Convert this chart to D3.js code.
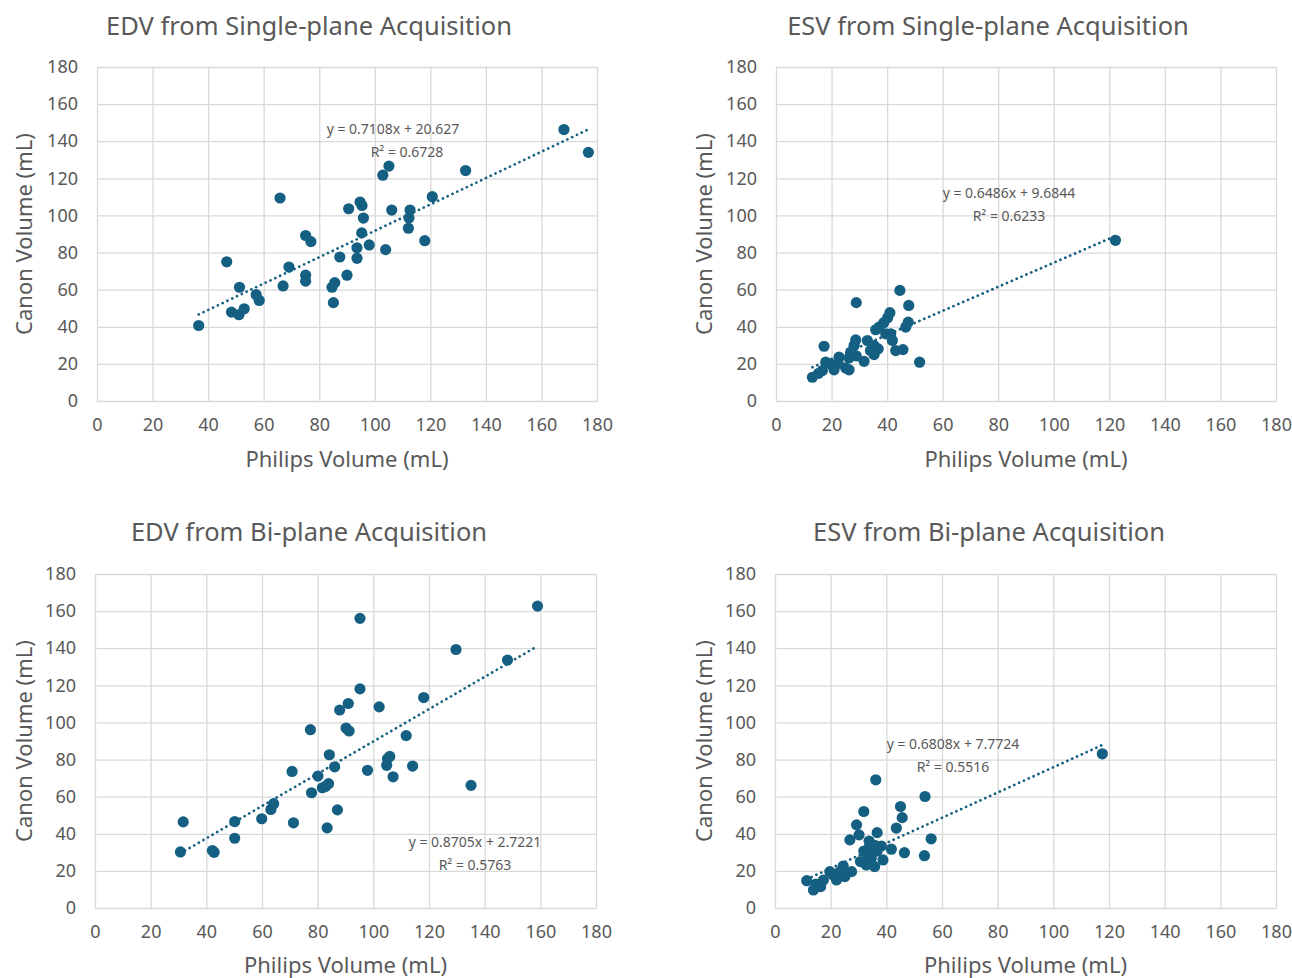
<!DOCTYPE html>
<html><head><meta charset="utf-8">
<script src="https://cdn.jsdelivr.net/npm/d3@7"></script>
<style>
body{margin:0;background:#fff;}
svg{display:block;}
text{font-family:"Noto Sans","Open Sans",sans-serif;fill:#595959;}
</style></head>
<body>
<svg id="chart" width="1292" height="978"></svg>
<script>
// ---- data ----
const ticks = [0,20,40,60,80,100,120,140,160,180];
const xTitle = "Philips Volume (mL)";
const yTitle = "Canon Volume (mL)";

const titles = ["EDV from Single-plane Acquisition","ESV from Single-plane Acquisition","EDV from Bi-plane Acquisition","ESV from Bi-plane Acquisition"];
const equations = ["y = 0.7108x + 20.627","y = 0.6486x + 9.6844","y = 0.8705x + 2.7221","y = 0.6808x + 7.7724"];
const rSquared = ["R² = 0.6728","R² = 0.6233","R² = 0.5763","R² = 0.5516"];
const slopes = [0.7108,0.6486,0.8705,0.6808];
const intercepts = [20.627,9.6844,2.7221,7.7724];

const edvSingleX = [36.6,46.7,48.4,51.1,51.3,53,57.3,58.4,65.9,67,69.1,75.1,77,75.1,75.1,84.6,85.6,85.1,87.4,90,90.6,93.6,93.6,94.7,95.4,95.3,95.9,98,102.9,105.1,103.9,106.1,112.1,112.3,112.7,118,120.7,132.7,168.1,176.9];
const edvSingleY = [40.7,75,47.9,46.5,61.3,49.7,57.3,54.2,109.4,62,72.2,89.2,85.9,67.8,64.6,61.3,63.8,53,77.6,67.8,103.6,82.6,76.9,107.2,105.4,90.6,98.6,84.1,121.7,126.6,81.6,102.9,93.1,98.6,102.9,86.4,110.1,124.2,146.3,134];

const esvSingleX = [44.6,28.9,47.8,41,40.2,47.6,38.8,37.1,35.9,46.7,41.3,39.5,41.9,28.7,28.1,32.9,35.3,36.8,35.3,31.7,26.9,26.3,43.1,45.7,51.7,17.3,22.7,22.4,19.6,17.9,25.1,20.9,16.7,13.1,15.3,26.3,28.9,34,122.2];
const esvSingleY = [59.6,53,51.5,47.6,44.9,42.5,42.2,39.8,38.4,39.8,36.2,36.2,32.6,32.9,29.9,32.6,29.9,28.1,25,21.4,26.3,23.2,27.2,27.7,20.9,29.5,23.6,20.3,20,20.9,17.8,16.8,16.4,12.8,14.9,16.8,24.3,27.2,86.6];

const edvBiX = [30.7,31.7,42.2,42.8,50.2,50.2,59.9,63.2,64.2,70.8,71.3,77.4,77.8,80.1,81.7,82.8,83.9,83.4,84.2,86.1,87.1,87.9,90.2,91,91.3,95.2,95.2,97.9,102.1,104.8,105.1,105.9,107.1,111.8,114.1,118.1,129.7,135.1,148.2,159];
const edvBiY = [30.2,46.4,31,30,37.6,46.6,48.1,53.1,56.2,73.6,45.9,96.1,62.1,71.1,64.8,65.5,67,43.2,82.6,76.1,52.9,106.7,97,110.2,95.4,156.1,118.1,74.2,108.4,76.9,80.5,81.7,70.7,92.9,76.5,113.4,139.3,66.1,133.6,162.7];

const esvBiX = [36.2,53.9,45.1,31.9,45.7,29.3,36.7,43.6,30.2,26.9,56.1,33.8,34,35.8,36.7,41.8,46.5,53.7,33.4,30.7,32.8,35.8,38.8,34.6,27.5,24.5,23.3,20.9,19.7,22.1,17.4,14.7,11.4,13.8,16.4,25.1,38.2,31.9,117.6];
const esvBiY = [69.1,60.1,54.7,52,48.7,44.8,40.6,43.1,39.4,36.7,37.3,36.1,33.4,33.8,30.7,31.7,29.8,28.2,28.6,25,23.2,22.3,25.9,26.8,19.6,22.6,19.6,17.8,19.6,15.1,15.1,12.9,14.7,9.7,11.5,16.9,33.4,30.7,83.1];

const seriesX = [edvSingleX, esvSingleX, edvBiX, esvBiX];
const seriesY = [edvSingleY, esvSingleY, edvBiY, esvBiY];

// ---- layout ----
const panels = [
  {x0:97, x1:597, y0:401, y1:67, titleX:309, titleY:35, eqX:393, eqY:134, xtY:467, ytX:32},
  {x0:776, x1:1276, y0:401, y1:67, titleX:988, titleY:35, eqX:1009, eqY:198, xtY:467, ytX:712},
  {x0:95, x1:596, y0:908, y1:574, titleX:309, titleY:541, eqX:475, eqY:847, xtY:973, ytX:32},
  {x0:775, x1:1276, y0:908, y1:574, titleX:989, titleY:541, eqX:953, eqY:749, xtY:973, ytX:712}
];
const color = "#156082";
const grid = "#d9d9d9";
const tickFont = 18;
const svg = d3.select("#chart");

panels.forEach((p,i)=>{
  const x = d3.scaleLinear().domain([0,180]).range([p.x0,p.x1]);
  const y = d3.scaleLinear().domain([0,180]).range([p.y0,p.y1]);
  const g = svg.append("g");

  // gridlines via axes
  g.append("g").attr("transform",`translate(0,${p.y0})`)
    .call(d3.axisBottom(x).tickValues(ticks).tickSize(-(p.y0-p.y1)).tickFormat(d=>d).tickPadding(17))
    .call(a=>{a.select(".domain").attr("stroke",grid);a.selectAll("line").attr("stroke",grid).attr("stroke-width",1.3);
      a.selectAll("text").attr("font-size",tickFont).attr("fill","#595959").attr("font-family",'"Noto Sans",sans-serif');});
  g.append("g").attr("transform",`translate(${p.x0},0)`)
    .call(d3.axisLeft(y).tickValues(ticks).tickSize(-(p.x1-p.x0)).tickFormat(d=>d).tickPadding(19))
    .call(a=>{a.select(".domain").remove();a.selectAll("line").attr("stroke",grid).attr("stroke-width",1.3);
      a.selectAll("text").attr("font-size",tickFont).attr("fill","#595959").attr("font-family",'"Noto Sans",sans-serif');});

  // trendline
  const xs = seriesX[i];
  const xmin = d3.min(xs), xmax = d3.max(xs);
  g.append("line")
    .attr("x1",x(xmin)).attr("y1",y(slopes[i]*xmin+intercepts[i]))
    .attr("x2",x(xmax)).attr("y2",y(slopes[i]*xmax+intercepts[i]))
    .attr("stroke",color).attr("stroke-width",2.7).attr("stroke-linecap","round")
    .attr("stroke-dasharray","0.1 5.2");

  // points
  g.append("g").selectAll("circle").data(xs.map((v,k)=>[v,seriesY[i][k]])).join("circle")
    .attr("cx",d=>x(d[0])).attr("cy",d=>y(d[1])).attr("r",5.6).attr("fill",color);

  // equation
  g.append("text").attr("x",p.eqX).attr("y",p.eqY).attr("text-anchor","middle").attr("font-size",14).text(equations[i]);
  g.append("text").attr("x",p.eqX+ (i===0?14:0)).attr("y",p.eqY+23).attr("text-anchor","middle").attr("font-size",14).text(rSquared[i]);

  // titles
  g.append("text").attr("x",p.titleX).attr("y",p.titleY).attr("text-anchor","middle").attr("font-size",25.5).text(titles[i]);
  g.append("text").attr("x",(p.x0+p.x1)/2).attr("y",p.xtY).attr("text-anchor","middle").attr("font-size",22).text(xTitle);
  g.append("text").attr("transform",`translate(${p.ytX},${(p.y0+p.y1)/2}) rotate(-90)`).attr("text-anchor","middle").attr("font-size",22).text(yTitle);
});
</script>
</body></html>
